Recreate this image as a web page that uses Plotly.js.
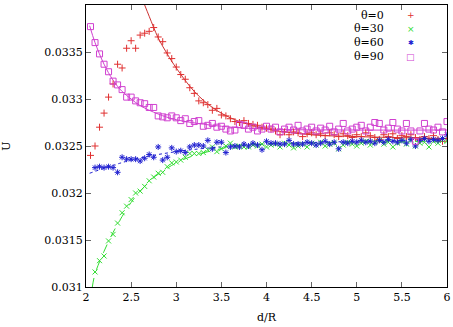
<!DOCTYPE html>
<html>
<head>
<meta charset="utf-8">
<script src="https://cdn.plot.ly/plotly-3.0.1.min.js"></script>
<style>
  html, body { margin: 0; padding: 0; background: #fff; }
  #plot { width: 453px; height: 327px; }
</style>
</head>
<body>
<div id="plot"></div>
<script>
// sampled d/R positions
const xs = [2.05, 2.10, 2.15, 2.20, 2.25, 2.30, 2.35, 2.40, 2.45, 2.50,
            2.55, 2.60, 2.65, 2.70, 2.75, 2.80, 2.85, 2.90, 2.95, 3.00,
            3.05, 3.10, 3.15, 3.20, 3.25, 3.30, 3.35, 3.40, 3.45, 3.50,
            3.55, 3.60, 3.65, 3.70, 3.75, 3.80, 3.85, 3.90, 3.95, 4.00,
            4.05, 4.10, 4.15, 4.20, 4.25, 4.30, 4.35, 4.40, 4.45, 4.50,
            4.55, 4.60, 4.65, 4.70, 4.75, 4.80, 4.85, 4.90, 4.95, 5.00,
            5.05, 5.10, 5.15, 5.20, 5.25, 5.30, 5.35, 5.40, 5.45, 5.50,
            5.55, 5.60, 5.65, 5.70, 5.75, 5.80, 5.85, 5.90, 5.95, 6.00];

const u0 = [.03240, .03250, .03270, .03285, .03302, .03316, .03337, .03333, .03354, .03362,
            .03354, .03368, .03370, .03372, .03376, .03366, .03361, .03349, .03343, .03334,
            .03326, .03321, .03312, .03306, .03298, .03296, .03294, .03288, .03290, .03283,
            .03282, .03279, .03276, .03275, .03277, .03274, .03273, .03272, .03270, .03269,
            .03268, .03266, .03262, .03265, .03262, .03265, .03264, .03260, .03263, .03264,
            .03262, .03263, .03261, .03264, .03262, .03260, .03263, .03261, .03259, .03262,
            .03260, .03264, .03261, .03259, .03257, .03262, .03260, .03263, .03258, .03261,
            .03260, .03262, .03259, .03257, .03260, .03258, .03261, .03257, .03255, .03258];

const u30 = [null, .03116, .03128, .03133, .03149, .03156, .03168, .03179, .03186, .03193,
             .03200, .03202, .03207, .03213, .03217, .03221, .03222, .03228, .03232, .03233,
             .03235, .03238, .03242, .03242, .03242, .03243, .03246, .03249, .03244, .03247,
             .03250, .03253, .03249, .03250, .03249, .03249, .03251, .03250, .03252, .03249,
             .03251, .03252, .03249, .03253, .03251, .03248, .03250, .03252, .03249, .03253,
             .03251, .03254, .03250, .03252, .03253, .03247, .03251, .03254, .03252, .03250,
             .03253, .03255, .03251, .03254, .03256, .03252, .03254, .03249, .03253, .03255,
             .03252, .03256, .03250, .03253, .03254, .03249, .03255, .03253, .03256, .03255];

const u60 = [null, .03227, .03228, .03227, .03228, .03227, .03222, .03238, .03236, .03236,
             .03236, .03234, .03237, .03241, .03238, .03249, .03235, .03238, .03248, .03244,
             .03245, .03243, .03249, .03251, .03251, .03250, .03256, .03247, .03254, .03254,
             .03243, .03249, .03250, .03249, .03252, .03250, .03253, .03251, .03246, .03255,
             .03253, .03253, .03252, .03252, .03256, .03252, .03252, .03252, .03254, .03253,
             .03251, .03253, .03255, .03252, .03254, .03247, .03254, .03253, .03255, .03254,
             .03256, .03254, .03255, .03253, .03256, .03254, .03257, .03255, .03254, .03256,
             .03253, .03257, .03250, .03256, .03258, .03255, .03257, .03256, .03258, .03262];

const u90 = [.03377, .03360, .03348, .03337, .03329, .03319, .03315, .03310, .03302, .03302,
             .03298, .03296, .03295, .03291, .03291, .03282, .03281, .03280, .03282, .03280,
             .03277, .03279, .03274, .03276, .03277, .03271, .03272, .03274, .03270, .03271,
             .03268, .03266, .03267, .03273, .03272, .03268, .03270, .03266, .03268, .03271,
             .03268, .03270, .03265, .03268, .03270, .03267, .03272, .03266, .03268, .03270,
             .03266, .03269, .03267, .03271, .03265, .03268, .03274, .03266, .03268, .03270,
             .03272, .03266, .03270, .03275, .03274, .03267, .03269, .03275, .03268, .03266,
             .03274, .03266, .03255, .03266, .03274, .03268, .03267, .03270, .03265, .03276];

// fitted curves
const fit0x = [2.65, 2.70, 2.80, 2.90, 3.00, 3.20, 3.40, 3.60, 3.80, 4.00, 4.50, 5.00, 6.00];
const fit0y = [.03400, .03388, .03365, .03348, .03333, .03308, .03291, .03280, .03273, .03268, .03262, .03260, .03258];
const fit30x = [2.07, 2.10, 2.20, 2.30, 2.40, 2.50, 2.60, 2.70, 2.80, 3.00, 3.20, 3.40, 3.60, 4.00, 5.00, 6.00];
const fit30y = [.03100, .03114, .03138, .03158, .03175, .03190, .03202, .03212, .03220, .03232, .03240, .03245, .03249, .03252, .03254, .03255];
const fit60x = [2.04, 2.50, 3.00, 3.50, 4.00, 5.00, 6.00];
const fit60y = [.03221, .03235, .03244, .03249, .03252, .03255, .03257];
const fit90x = [2.04, 2.10, 2.20, 2.30, 2.40, 2.50, 2.60, 2.80, 3.00, 3.50, 4.00, 5.00, 6.00];
const fit90y = [.03378, .03360, .03337, .03320, .03308, .03300, .03293, .03284, .03278, .03271, .03268, .03267, .03267];

const labels = ['θ=0', 'θ=30', 'θ=60', 'θ=90'];
const keyGlyphs = ['+', '×', '✱', '□'];
const xTicks = [2, 2.5, 3, 3.5, 4, 4.5, 5, 5.5, 6];
const xTickText = ['2', '2.5', '3', '3.5', '4', '4.5', '5', '5.5', '6'];
const yTicks = [0.031, 0.0315, 0.032, 0.0325, 0.033, 0.0335, 0.034];
const yTickText = ['0.031', '0.0315', '0.032', '0.0325', '0.033', '0.0335', '0.034'];

const RED = '#e03030', GREEN = '#30dd30', BLUE = '#2020d0', MAG = '#d040d0';
const colors = [RED, GREEN, BLUE, MAG];

function fitLine(x, y, color, dash) {
    return {
        x: x, y: y, mode: 'lines', type: 'scatter', showlegend: false,
        line: { color: color, width: 1, dash: dash, shape: 'spline', smoothing: 1 },
        hoverinfo: 'skip'
    };
}

function pts(y, name, symbol, color, size) {
    return {
        x: xs, y: y, mode: 'markers', type: 'scatter', name: name, showlegend: false,
        marker: { symbol: symbol, size: size, color: color, line: { color: color, width: 1 } }
    };
}

const traces = [
    fitLine(fit0x, fit0y, '#cc3030', 'solid'),
    fitLine(fit30x, fit30y, GREEN, 'dash'),
    fitLine(fit60x, fit60y, BLUE, 'dot'),
    fitLine(fit90x, fit90y, MAG, 'solid'),
    pts(u0, labels[0], 'cross-thin', RED, 5),
    pts(u30, labels[1], 'x-thin', GREEN, 5),
    pts(u60, labels[2], 'asterisk', BLUE, 5),
    pts(u90, labels[3], 'square-open', MAG, 6)
];

// Liberation Serif did not resolve here; DejaVu Serif a size down is closest to the reference
const serif = 'DejaVu Serif';
const font = { family: serif, size: 11, color: '#000' };

// key drawn gnuplot-style: label right-aligned, symbol to its right
const annotations = [];
labels.forEach((t, i) => {
    const yy = 0.9645 - i * 0.0496;
    annotations.push({
        text: t, xref: 'paper', yref: 'paper', x: 0.83, y: yy,
        xanchor: 'right', yanchor: 'middle', showarrow: false, font: font
    });
    annotations.push({
        text: keyGlyphs[i], xref: 'paper', yref: 'paper', x: 0.90, y: yy,
        xanchor: 'center', yanchor: 'middle', showarrow: false,
        font: { family: 'DejaVu Sans', size: i === 2 ? 7 : 9, color: colors[i] }
    });
});

Plotly.newPlot('plot', traces, {
    width: 453, height: 327,
    margin: { l: 86, r: 6, t: 5, b: 40 },
    paper_bgcolor: '#fff', plot_bgcolor: '#fff',
    font: font,
    showlegend: false,
    annotations: annotations,
    xaxis: {
        range: [2, 6], tickvals: xTicks, ticktext: xTickText,
        tickfont: font,
        ticks: 'inside', ticklen: 5, tickcolor: '#666', showline: true, linecolor: '#000', linewidth: 1,
        mirror: 'ticks', showgrid: false, zeroline: false,
        title: { text: 'd/R', font: font, standoff: 10 }
    },
    yaxis: {
        range: [0.031, 0.034], tickvals: yTicks, ticktext: yTickText,
        tickfont: font,
        ticks: 'inside', ticklen: 5, tickcolor: '#666', showline: true, linecolor: '#000', linewidth: 1,
        mirror: 'ticks', showgrid: false, zeroline: false,
        title: { text: 'U', font: font, standoff: 34 }
    }
}, { displayModeBar: false, staticPlot: true });
</script>
</body>
</html>
